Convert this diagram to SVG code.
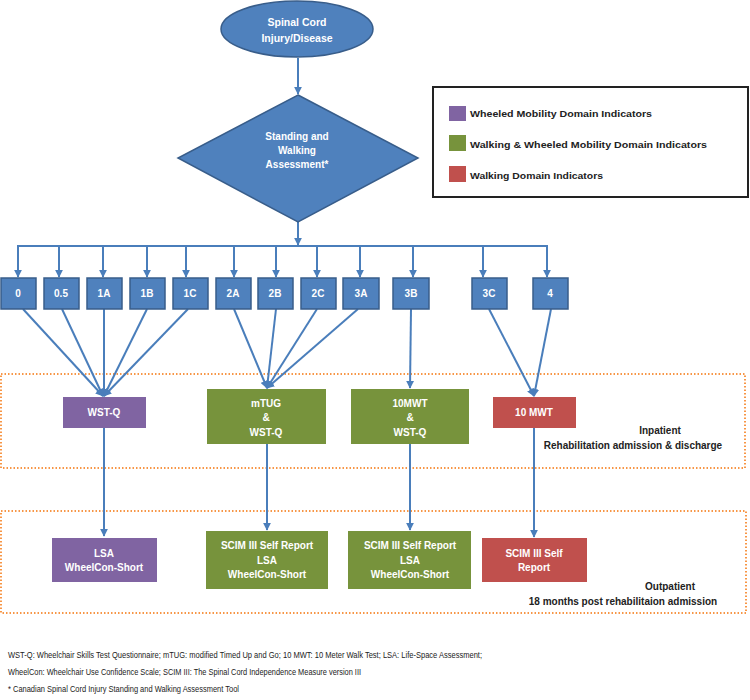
<svg xmlns="http://www.w3.org/2000/svg" width="750" height="700" viewBox="0 0 750 700">
<defs>
<marker id="ah" viewBox="0 0 10 10" refX="9" refY="5" markerWidth="4" markerHeight="4" orient="auto" markerUnits="strokeWidth">
<path d="M0,0 L10,5 L0,10 z" fill="#4A7EBB"/>
</marker>
<style>
.bl{fill:#4F81BD;stroke:#385D8A;stroke-width:1.5}
.lv{fill:#4F81BD;stroke:#385D8A;stroke-width:1.5}
.pu{fill:#8064A2}
.gr{fill:#77933C}
.rd{fill:#C0504D}
.wt{font-family:"Liberation Sans",Arial,sans-serif;font-weight:bold;fill:#fff;text-anchor:middle}
.bt{font-family:"Liberation Sans",Arial,sans-serif;font-weight:bold;fill:#222;text-anchor:middle}
.lg{font-family:"Liberation Sans",Arial,sans-serif;font-weight:bold;fill:#222;font-size:9.5px}
.fn{font-family:"Liberation Sans",Arial,sans-serif;fill:#222;font-size:9.5px}
.cn line,.cn polyline{stroke:#4A7EBB;stroke-width:2;fill:none}
.dz{fill:none;stroke:#F79646;stroke-width:2;stroke-dasharray:1.5 2}
</style>
</defs>
<rect width="750" height="700" fill="#fff"/>

<!-- zones -->
<rect class="dz" x="1" y="374" width="744" height="94"/>
<rect class="dz" x="1" y="511" width="745" height="102"/>
<text class="bt" x="660" y="434" font-size="10">Inpatient</text>
<text class="bt" x="633" y="449" font-size="10">Rehabilitation admission &amp; discharge</text>
<text class="bt" x="670" y="590" font-size="10">Outpatient</text>
<text class="bt" x="623" y="605" font-size="10">18 months post rehabilitaion  admission</text>

<!-- connectors -->
<g class="cn" id="connectors">
<line x1="298" y1="58" x2="298" y2="94" marker-end="url(#ah)"/>
<line x1="298" y1="222" x2="298" y2="245" marker-end="url(#ah)"/>
<line x1="17" y1="246" x2="548" y2="246"/>
<line x1="18" y1="246" x2="18" y2="277" marker-end="url(#ah)"/>
<line x1="59" y1="246" x2="59" y2="277" marker-end="url(#ah)"/>
<line x1="103" y1="246" x2="103" y2="277" marker-end="url(#ah)"/>
<line x1="147" y1="246" x2="147" y2="277" marker-end="url(#ah)"/>
<line x1="186" y1="246" x2="186" y2="277" marker-end="url(#ah)"/>
<line x1="234" y1="246" x2="234" y2="277" marker-end="url(#ah)"/>
<line x1="276" y1="246" x2="276" y2="277" marker-end="url(#ah)"/>
<line x1="317" y1="246" x2="317" y2="277" marker-end="url(#ah)"/>
<line x1="360" y1="246" x2="360" y2="277" marker-end="url(#ah)"/>
<line x1="413" y1="246" x2="413" y2="277" marker-end="url(#ah)"/>
<line x1="483" y1="246" x2="483" y2="277" marker-end="url(#ah)"/>
<line x1="547" y1="246" x2="547" y2="277" marker-end="url(#ah)"/>
<!-- to WST-Q -->
<line x1="23" y1="309" x2="103" y2="396" marker-end="url(#ah)"/>
<line x1="62" y1="309" x2="103" y2="396" marker-end="url(#ah)"/>
<line x1="104" y1="309" x2="104" y2="396" marker-end="url(#ah)"/>
<line x1="147" y1="309" x2="104" y2="396" marker-end="url(#ah)"/>
<line x1="188" y1="309" x2="104" y2="396" marker-end="url(#ah)"/>
<!-- to mTUG -->
<line x1="234" y1="309" x2="267" y2="388" marker-end="url(#ah)"/>
<line x1="276" y1="309" x2="267" y2="388" marker-end="url(#ah)"/>
<line x1="317" y1="309" x2="267" y2="388" marker-end="url(#ah)"/>
<line x1="358" y1="309" x2="267" y2="388" marker-end="url(#ah)"/>
<!-- 3B -->
<line x1="411" y1="309" x2="410" y2="388" marker-end="url(#ah)"/>
<!-- 3C, 4 -->
<line x1="489" y1="309" x2="534" y2="396" marker-end="url(#ah)"/>
<line x1="551" y1="309" x2="534" y2="396" marker-end="url(#ah)"/>
<!-- down to outpatient -->
<line x1="104" y1="428" x2="104" y2="536" marker-end="url(#ah)"/>
<line x1="267" y1="444" x2="267" y2="530" marker-end="url(#ah)"/>
<line x1="410" y1="444" x2="410" y2="530" marker-end="url(#ah)"/>
<line x1="534" y1="428" x2="534" y2="537" marker-end="url(#ah)"/>
</g>

<g id="n-sci">
<ellipse class="bl" cx="297" cy="29" rx="76" ry="28"/>
<text class="wt" x="297" y="26" font-size="10.5">Spinal Cord</text>
<text class="wt" x="297" y="42" font-size="10.5">Injury/Disease</text>
</g>

<g id="n-assess">
<polygon class="bl" points="298,95 418,158 298,222 178,158"/>
<text class="wt" x="297" y="140" font-size="10">Standing and</text>
<text class="wt" x="297" y="154" font-size="10">Walking</text>
<text class="wt" x="297" y="168" font-size="10">Assessment*</text>
</g>

<g id="levels">
<g id="l-0"><rect class="lv" x="1" y="278" width="35" height="31"/><text class="wt" x="18" y="297" font-size="10">0</text></g>
<g id="l-05"><rect class="lv" x="44" y="278" width="35" height="31"/><text class="wt" x="61" y="297" font-size="10">0.5</text></g>
<g id="l-1A"><rect class="lv" x="87" y="278" width="35" height="31"/><text class="wt" x="104" y="297" font-size="10">1A</text></g>
<g id="l-1B"><rect class="lv" x="130" y="278" width="35" height="31"/><text class="wt" x="147" y="297" font-size="10">1B</text></g>
<g id="l-1C"><rect class="lv" x="173" y="278" width="35" height="31"/><text class="wt" x="190" y="297" font-size="10">1C</text></g>
<g id="l-2A"><rect class="lv" x="216" y="278" width="35" height="31"/><text class="wt" x="233" y="297" font-size="10">2A</text></g>
<g id="l-2B"><rect class="lv" x="258" y="278" width="35" height="31"/><text class="wt" x="275" y="297" font-size="10">2B</text></g>
<g id="l-2C"><rect class="lv" x="301" y="278" width="35" height="31"/><text class="wt" x="318" y="297" font-size="10">2C</text></g>
<g id="l-3A"><rect class="lv" x="343" y="278" width="36" height="31"/><text class="wt" x="361" y="297" font-size="10">3A</text></g>
<g id="l-3B"><rect class="lv" x="393" y="278" width="36" height="31"/><text class="wt" x="411" y="297" font-size="10">3B</text></g>
<g id="l-3C"><rect class="lv" x="472" y="278" width="35" height="31"/><text class="wt" x="489" y="297" font-size="10">3C</text></g>
<g id="l-4"><rect class="lv" x="533" y="278" width="35" height="31"/><text class="wt" x="550" y="297" font-size="10">4</text></g>
</g>

<g id="n-wstq">
<rect class="pu" x="63" y="397" width="83" height="31"/>
<text class="wt" x="104" y="416" font-size="10">WST-Q</text>
</g>
<g id="n-mtug">
<rect class="gr" x="207" y="389" width="119" height="55"/>
<text class="wt" x="266" y="407" font-size="10">mTUG</text>
<text class="wt" x="266" y="421" font-size="10">&amp;</text>
<text class="wt" x="266" y="436" font-size="10">WST-Q</text>
</g>
<g id="n-10mwtw">
<rect class="gr" x="351" y="389" width="118" height="55"/>
<text class="wt" x="410" y="407" font-size="10">10MWT</text>
<text class="wt" x="410" y="421" font-size="10">&amp;</text>
<text class="wt" x="410" y="436" font-size="10">WST-Q</text>
</g>
<g id="n-10mwt">
<rect class="rd" x="493" y="397" width="83" height="31"/>
<text class="wt" x="534" y="416" font-size="10">10 MWT</text>
</g>

<g id="n-lsa">
<rect class="pu" x="52" y="538" width="105" height="44"/>
<text class="wt" x="104" y="557" font-size="10">LSA</text>
<text class="wt" x="104" y="571" font-size="10">WheelCon-Short</text>
</g>
<g id="n-scim1">
<rect class="gr" x="206" y="531" width="122" height="58"/>
<text class="wt" x="267" y="549" font-size="10">SCIM III Self Report</text>
<text class="wt" x="267" y="564" font-size="10">LSA</text>
<text class="wt" x="267" y="578" font-size="10">WheelCon-Short</text>
</g>
<g id="n-scim2">
<rect class="gr" x="348" y="531" width="123" height="58"/>
<text class="wt" x="410" y="549" font-size="10">SCIM III Self Report</text>
<text class="wt" x="410" y="564" font-size="10">LSA</text>
<text class="wt" x="410" y="578" font-size="10">WheelCon-Short</text>
</g>
<g id="n-scim3">
<rect class="rd" x="482" y="538" width="105" height="44"/>
<text class="wt" x="534" y="557" font-size="10">SCIM III Self</text>
<text class="wt" x="534" y="571" font-size="10">Report</text>
</g>

<g id="legend">
<rect x="433" y="87" width="315" height="110" fill="#fff" stroke="#222" stroke-width="2"/>
<rect class="pu" x="449" y="106" width="17" height="15"/>
<rect class="gr" x="449" y="135" width="17" height="16"/>
<rect class="rd" x="449" y="166" width="17" height="16"/>
<text class="lg" x="470" y="117" textLength="182" lengthAdjust="spacingAndGlyphs">Wheeled Mobility Domain Indicators</text>
<text class="lg" x="470" y="148" textLength="237" lengthAdjust="spacingAndGlyphs">Walking &amp; Wheeled Mobility Domain Indicators</text>
<text class="lg" x="470" y="179" textLength="133" lengthAdjust="spacingAndGlyphs">Walking Domain Indicators</text>
</g>

<g id="footnotes">
<text class="fn" x="8" y="658" textLength="474" lengthAdjust="spacingAndGlyphs">WST-Q: Wheelchair Skills Test Questionnaire; mTUG: modified Timed Up and Go; 10 MWT: 10 Meter Walk Test;  LSA: Life-Space Assessment;</text>
<text class="fn" x="8" y="675" textLength="353" lengthAdjust="spacingAndGlyphs">WheelCon: Wheelchair Use Confidence Scale; SCIM III: The Spinal Cord Independence Measure version III</text>
<text class="fn" x="8" y="692" textLength="231" lengthAdjust="spacingAndGlyphs">* Canadian Spinal Cord Injury Standing and Walking Assessment Tool</text>
</g>
</svg>
